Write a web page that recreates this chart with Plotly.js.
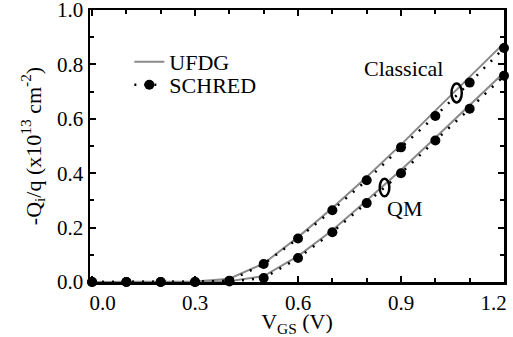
<!DOCTYPE html>
<html>
<head>
<meta charset="utf-8">
<script src="https://cdn.plot.ly/plotly-3.0.1.min.js"></script>
<style>html,body{margin:0;padding:0;background:#fff;}#chart{width:513px;height:337px;}</style>
</head>
<body>
<div id="chart"></div>
<script>
// Gate voltage (V)
const vgs = [0.0, 0.1, 0.2, 0.3, 0.4, 0.5, 0.6, 0.7, 0.8, 0.9, 1.0, 1.1, 1.2];
// UFDG (solid gray)
const ufdgClassical = [0.0, 0.0, 0.0, 0.002, 0.012, 0.068, 0.165, 0.272, 0.386, 0.505, 0.630, 0.755, 0.878];
const ufdgQM        = [0.0, 0.0, 0.0, 0.0, 0.003, 0.022, 0.095, 0.190, 0.300, 0.412, 0.530, 0.650, 0.770];
// SCHRED (dotted with dots)
const schredClassical = [0.0, 0.0, 0.0, 0.0, 0.005, 0.066, 0.160, 0.264, 0.374, 0.495, 0.610, 0.733, 0.860];
const schredQM        = [0.0, 0.0, 0.0, 0.0, 0.002, 0.015, 0.088, 0.183, 0.290, 0.400, 0.520, 0.637, 0.758];
// Tick labels
const xTickVals = [0.0, 0.3, 0.6, 0.9, 1.2];
const xTickText = ['\u00a0\u00a0\u00a0\u00a00.0', '0.3', '0.6', '0.9', '1.2\u00a0\u00a0\u00a0\u00a0'];
const yTickVals = [0.0, 0.2, 0.4, 0.6, 0.8, 1.0];
const yTickText = ['0.0', '0.2', '0.4', '0.6', '0.8', '1.0'];

const serif = 'Liberation Serif';
const gray = '#8a8a8a';

const traces = [
  {x: vgs, y: ufdgClassical, mode: 'lines', name: 'UFDG', legend: 'legend', line: {color: gray, width: 2}, cliponaxis: false},
  {x: vgs, y: ufdgQM, mode: 'lines', name: 'UFDG', showlegend: false, line: {color: gray, width: 2}, cliponaxis: false},
  {x: vgs, y: schredClassical, mode: 'lines+markers', name: 'SCHRED', legend: 'legend2',
   line: {color: '#000', width: 2.5, dash: '2px,8px'}, marker: {color: '#000', size: 10, symbol: 'circle'}, cliponaxis: false},
  {x: vgs, y: schredQM, mode: 'lines+markers', name: 'SCHRED', showlegend: false,
   line: {color: '#000', width: 2.5, dash: '2px,8px'}, marker: {color: '#000', size: 10, symbol: 'circle'}, cliponaxis: false}
];

const axisCommon = {
  showline: true, linecolor: '#000', linewidth: 2.5, mirror: 'ticks',
  ticks: 'inside', ticklen: 6, tickwidth: 2, tickcolor: '#000',
  showgrid: false, zeroline: false, tickmode: 'array', ticklabeloverflow: 'allow',
  tickfont: {family: serif, size: 21, color: '#000'},
  minor: {ticks: 'inside', ticklen: 4, tickwidth: 2, tickcolor: '#000', showgrid: false, tickmode: 'linear'}
};

const legendCommon = {xanchor: 'left', yanchor: 'middle', bgcolor: 'rgba(0,0,0,0)',
  font: {family: serif, size: 22, color: '#000'}, itemwidth: 30};

const layout = {
  width: 513, height: 337,
  margin: {l: 90, r: 9, t: 10, b: 55},
  paper_bgcolor: '#fff', plot_bgcolor: '#fff',
  font: {family: serif, size: 21, color: '#000'},
  xaxis: Object.assign({}, axisCommon, {
    range: [-0.006, 1.2], tickvals: xTickVals, ticktext: xTickText,
    minor: Object.assign({}, axisCommon.minor, {dtick: 0.1, tick0: 0}),
    title: {text: 'V<sub>GS</sub> (V)', font: {family: serif, size: 22}, standoff: 5}
  }),
  yaxis: Object.assign({}, axisCommon, {
    range: [0, 1.0], tickvals: yTickVals, ticktext: yTickText,
    minor: Object.assign({}, axisCommon.minor, {dtick: 0.1, tick0: 0}),
    title: {text: '-Q<sub>i</sub>/q (x10<sup>13</sup> cm<sup>-2</sup>)', font: {family: serif, size: 22}, standoff: 10}
  }),
  showlegend: true,
  legend: Object.assign({}, legendCommon, {x: 0.095, y: (282 - 62) / 272}),
  legend2: Object.assign({}, legendCommon, {x: 0.095, y: (282 - 85) / 272}),
  annotations: [
    {x: 0.906, y: 0.785, xref: 'x', yref: 'y', text: 'Classical', showarrow: false, font: {family: serif, size: 22}},
    {x: 0.91, y: 0.27, xref: 'x', yref: 'y', text: 'QM', showarrow: false, font: {family: serif, size: 22}}
  ],
  shapes: [
    {type: 'circle', xref: 'x', yref: 'y', x0: 1.047, x1: 1.077, y0: 0.66, y1: 0.73, line: {color: '#000', width: 2.5}},
    {type: 'circle', xref: 'x', yref: 'y', x0: 0.838, x1: 0.866, y0: 0.315, y1: 0.38, line: {color: '#000', width: 2.5}}
  ]
};

Plotly.newPlot('chart', traces, layout, {displayModeBar: false, staticPlot: true});
</script>
</body>
</html>
